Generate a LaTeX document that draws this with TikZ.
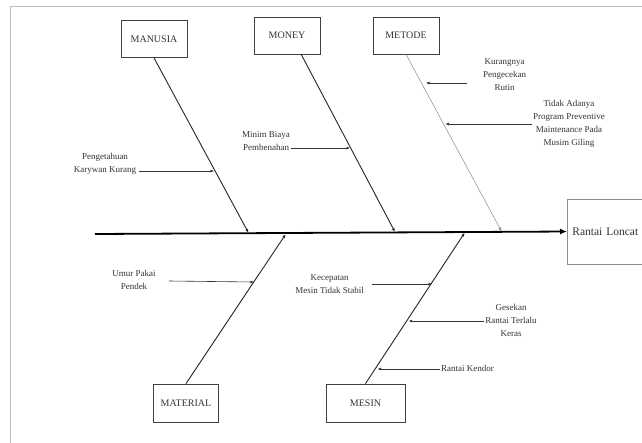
\documentclass[tikz,border=0pt]{standalone}
\usepackage{fontspec}
\setmainfont{Liberation Serif}
\usetikzlibrary{arrows.meta}
\begin{document}
\begin{tikzpicture}[x=1pt,y=-1pt,
  catbox/.style={draw=black!75,line width=0.8pt,minimum width=66pt,minimum height=37pt,font=\fontsize{10}{12}\selectfont,text=black!80},
  cause/.style={font=\fontsize{9}{13}\selectfont,align=center,text=black!80,inner sep=1pt},
  bone/.style={draw=black!85,line width=0.9pt,-{Latex[length=4pt,width=3pt]}},
  sub/.style={draw=black!80,line width=0.6pt,-{Latex[length=3.5pt,width=3pt]}}]
\useasboundingbox (0,0) rectangle (642,442);
\clip (0,0) rectangle (642,442);
\fill[white] (0,0) rectangle (642,442);
\draw[black!25,line width=0.8pt] (10,6) rectangle (680,480);
% boxes
\node[catbox] (manusia) at (154,39) {MANUSIA};
\node[catbox] (money) at (287,35.5) {MONEY};
\node[catbox] (metode) at (406,35.5) {METODE};
\node[catbox,minimum width=65pt,minimum height=38pt] (material) at (186,403) {MATERIAL};
\node[catbox,minimum width=79pt,minimum height=38pt] (mesin) at (365.5,403) {MESIN};
\node[draw=black!45,line width=0.8pt,minimum height=65pt,text width=76pt,align=left,inner xsep=5pt,font=\fontsize{11.5}{14}\selectfont,text=black!80,anchor=west] (effect) at (567,231.5) {Rantai Loncat};
% spine
\coordinate (tail) at (95,234);
\draw[black,line width=1.8pt,-{Latex[length=7pt,width=6pt]}] (tail) -- (effect.west);
% bone ends on spine
\coordinate (sManusia) at (248.6,233);
\coordinate (sMoney) at (395,232);
\coordinate (sMetode) at (501.6,231.5);
\coordinate (sMaterial) at (285.8,234);
\coordinate (sMesin) at (464.8,232.5);
\coordinate (mo) at (301,54);
\draw[bone] (manusia.south) -- (sManusia);
\draw[bone] (mo) -- (sMoney);
\draw[bone,draw=black!45,line width=0.5pt] (metode.south) -- (sMetode);
\draw[bone] (material.north) -- (sMaterial);
\draw[bone] (mesin.north) -- (sMesin);
% causes
\node[cause] (c1) at (105,163.5) {Pengetahuan\\Karywan Kurang};
\coordinate (h1) at (214,171);
\draw[sub] ([xshift=2pt]c1.east |- h1) -- (h1);
\node[cause] (c2) at (266,141.5) {Minim Biaya\\Pembenahan};
\coordinate (h2) at (350,148);
\draw[sub] (c2.east |- h2) -- (h2);
\node[cause] (c3) at (504.5,75) {Kurangnya\\Pengecekan\\Rutin};
\coordinate (t3) at (467,83);
\coordinate (h3) at (426,83);
\draw[sub] (t3) -- (h3);
\node[cause] (c4) at (569,123.5) {Tidak Adanya\\Program Preventive\\Maintenance Pada\\Musim Giling};
\coordinate (h4) at (445.5,124);
\draw[sub] (c4.west |- h4) -- (h4);
\node[cause] (c5) at (134,279.5) {Umur Pakai\\Pendek};
\coordinate (t5) at (169,281);
\coordinate (h5) at (254,282);
\draw[sub] (t5) -- (h5);
\node[cause] (c6) at (329.6,284.5) {Kecepatan\\Mesin Tidak Stabil};
\coordinate (t6) at (372,284);
\coordinate (h6) at (432,284);
\draw[sub] (t6) -- (h6);
\node[cause] (c7) at (511,320) {Gesekan\\Rantai Terlalu\\Keras};
\coordinate (h7) at (408.7,321);
\draw[sub] (c7.west |- h7) -- (h7);
\node[cause,anchor=west] (c8) at (440,368.5) {Rantai Kendor};
\coordinate (h8) at (377.6,369);
\draw[sub] (c8.west |- h8) -- (h8);
\end{tikzpicture}
\end{document}
